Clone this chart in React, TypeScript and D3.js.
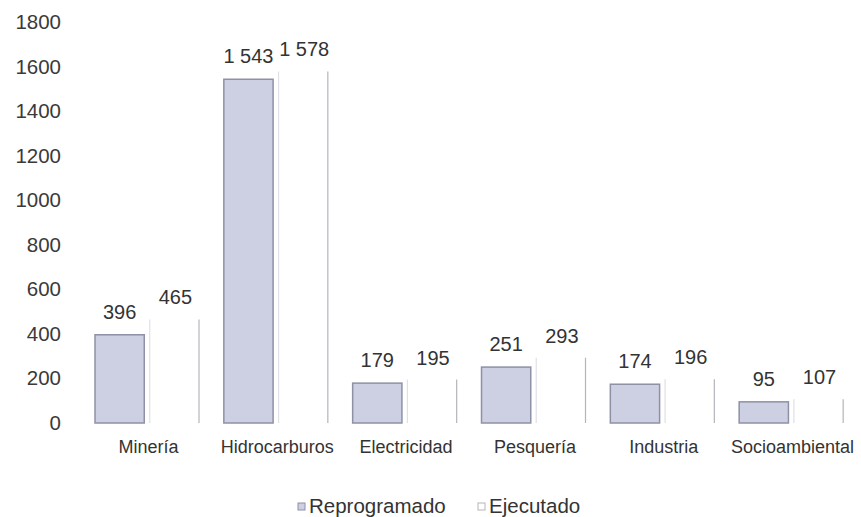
import { useEffect, useRef } from "react"
import * as d3 from "d3"

const categories = ["Minería", "Hidrocarburos", "Electricidad", "Pesquería", "Industria", "Socioambiental"]
const series = ["Reprogramado", "Ejecutado"]
const reprogramado = [396, 1543, 179, 251, 174, 95]
const ejecutado = [465, 1578, 195, 293, 196, 107]
const yTicks = [0, 200, 400, 600, 800, 1000, 1200, 1400, 1600, 1800]

const WIDTH = 861
const HEIGHT = 517
const FONT = "'Liberation Sans', Arial, sans-serif"

const fmt = (v: number) => {
  const s = String(v)
  return s.length > 3 ? s.slice(0, s.length - 3) + " " + s.slice(-3) : s
}

export default function App() {
  const svgRef = useRef<SVGSVGElement>(null)

  useEffect(() => {
    if (!svgRef.current) return
    const svg = d3.select(svgRef.current)
    svg.selectAll("*").remove()

    const x = d3.scaleBand<string>().domain(categories).range([84, 857])
    const x1 = d3.scaleBand<string>().domain(series).range([11, 115]).paddingInner(0.1)
    const y = d3.scaleLinear().domain([0, 1800]).range([423, 22])

    // y tick labels
    svg.append("g")
      .selectAll("text")
      .data(yTicks)
      .join("text")
      .attr("x", 61)
      .attr("y", (d) => y(d) + 7)
      .attr("text-anchor", "end")
      .attr("font-family", FONT)
      .attr("font-size", "20.5px")
      .attr("fill", "#3a3a3a")
      .text((d) => d)

    const rows = categories.map((c, i) => ({ c, rep: reprogramado[i], ej: ejecutado[i] }))

    // reprogramado bars
    svg.append("g")
      .selectAll("rect")
      .data(rows)
      .join("rect")
      .attr("x", (d) => x(d.c)! + x1("Reprogramado")!)
      .attr("y", (d) => y(d.rep))
      .attr("width", x1.bandwidth())
      .attr("height", (d) => y(0) - y(d.rep))
      .attr("fill", "#cdd0e3")
      .attr("stroke", "#8e90a6")
      .attr("stroke-width", 1.5)

    // ejecutado bars: white with faint side edges
    const ej = svg.append("g").selectAll("g").data(rows).join("g")
    ej.append("rect")
      .attr("x", (d) => x(d.c)! + x1("Ejecutado")!)
      .attr("y", (d) => y(d.ej))
      .attr("width", x1.bandwidth())
      .attr("height", (d) => y(0) - y(d.ej))
      .attr("fill", "#ffffff")
    ej.append("line")
      .attr("x1", (d) => x(d.c)! + x1("Ejecutado")!)
      .attr("x2", (d) => x(d.c)! + x1("Ejecutado")!)
      .attr("y1", (d) => y(d.ej))
      .attr("y2", y(0))
      .attr("stroke", "#e0e0e6")
      .attr("stroke-width", 1.2)
    ej.append("line")
      .attr("x1", (d) => x(d.c)! + x1("Ejecutado")! + x1.bandwidth())
      .attr("x2", (d) => x(d.c)! + x1("Ejecutado")! + x1.bandwidth())
      .attr("y1", (d) => y(d.ej))
      .attr("y2", y(0))
      .attr("stroke", "#b4b4be")
      .attr("stroke-width", 1.2)

    // value labels
    const labels = svg.append("g")
      .attr("font-family", FONT)
      .attr("font-size", "20px")
      .attr("fill", "#333")
      .attr("text-anchor", "middle")
    labels.selectAll("text.rep")
      .data(rows)
      .join("text")
      .attr("class", "rep")
      .attr("x", (d) => x(d.c)! + x1("Reprogramado")! + x1.bandwidth() / 2)
      .attr("y", (d) => y(d.rep) - 16)
      .text((d) => fmt(d.rep))
    labels.selectAll("text.ej")
      .data(rows)
      .join("text")
      .attr("class", "ej")
      .attr("x", (d) => x(d.c)! + x1("Ejecutado")! + x1.bandwidth() / 2 + 1)
      .attr("y", (d) => y(d.ej) - 15)
      .text((d) => fmt(d.ej))

    // category labels
    svg.append("g")
      .selectAll("text")
      .data(categories)
      .join("text")
      .attr("x", (d) => x(d)! + x.bandwidth() / 2)
      .attr("y", 453)
      .attr("text-anchor", "middle")
      .attr("font-family", FONT)
      .attr("font-size", "18px")
      .attr("fill", "#333")
      .text((d) => d)

    // legend
    const legend = svg.append("g").attr("font-family", FONT).attr("font-size", "20.5px").attr("fill", "#333")
    const lx = [298, 478]
    series.forEach((s, i) => {
      legend.append("rect")
        .attr("x", lx[i])
        .attr("y", 503)
        .attr("width", 7)
        .attr("height", 7)
        .attr("fill", i === 0 ? "#cdd0e3" : "#ffffff")
        .attr("stroke", i === 0 ? "#8e90a6" : "#b4b4be")
      legend.append("text")
        .attr("x", lx[i] + 11)
        .attr("y", 513)
        .text(s)
    })
  }, [])

  return (
    <svg
      ref={svgRef}
      width={WIDTH}
      height={HEIGHT}
      style={{ position: "absolute", left: 0, top: 0, background: "#fff" }}
    />
  )
}
